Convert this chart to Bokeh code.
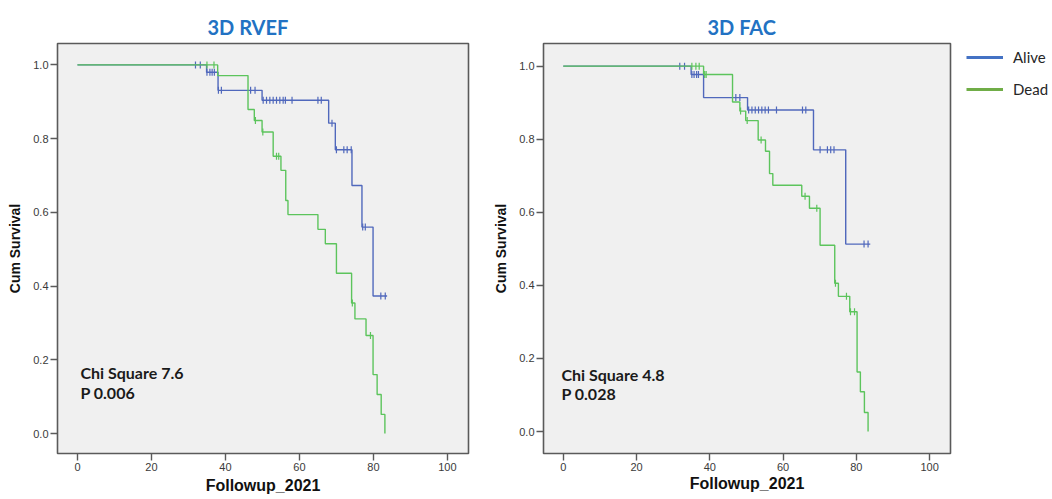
import numpy as np
from bokeh.plotting import figure
from bokeh.layouts import row
from bokeh.models import FixedTicker, PrintfTickFormatter, Legend, LegendItem
from bokeh.core.properties import value
from bokeh.embed import file_html
from bokeh.resources import INLINE

# ---------------- data ----------------
# 3D RVEF
rvef_alive_time = [0, 34.9, 38.0, 49.9, 67.9, 69.7, 74.2, 76.9, 79.9, 83.7]
rvef_alive_surv = [1.0, 0.980, 0.931, 0.904, 0.842, 0.770, 0.673, 0.560, 0.373, 0.373]
rvef_alive_cens = [31.9, 33.2, 35.0, 35.8, 36.4, 37.0, 38.1, 38.9, 46.8, 48.0,
                   50.2, 51.1, 52.0, 52.9, 53.8, 54.7, 55.6, 56.2, 58.0, 65.0, 65.9,
                   68.8, 70.0, 72.0, 72.9, 74.0, 77.1, 77.8, 82.0, 83.2]
rvef_dead_time = [0, 37.9, 46.1, 47.8, 49.9, 52.9, 55.0, 56.3, 56.9, 65.0, 67.0,
                  70.0, 74.1, 75.0, 78.0, 79.9, 81.0, 82.1, 83.1]
rvef_dead_surv = [1.0, 0.971, 0.879, 0.849, 0.818, 0.752, 0.714, 0.632, 0.594, 0.554,
                  0.515, 0.435, 0.354, 0.311, 0.266, 0.160, 0.106, 0.052, 0.0]
rvef_dead_cens = [35.0, 36.9, 48.1, 50.1, 53.8, 54.4, 74.3, 79.2]

# 3D FAC
fac_alive_time = [0, 34.9, 38.3, 50.3, 68.3, 77.1, 83.8]
fac_alive_surv = [1.0, 0.977, 0.914, 0.880, 0.771, 0.513, 0.513]
fac_alive_cens = [31.8, 33.1, 35.1, 35.7, 36.4, 36.9, 47.1, 48.2,
                  50.6, 51.5, 52.4, 53.3, 54.2, 55.1, 56.0, 58.2, 65.3, 66.2,
                  70.1, 72.1, 73.0, 73.9, 82.1, 83.2]
fac_dead_time = [0, 38.3, 46.2, 48.2, 49.8, 53.2, 55.2, 56.3, 57.2, 65.1, 67.2,
                 70.1, 74.1, 75.1, 78.2, 80.2, 81.1, 82.2, 83.2]
fac_dead_surv = [1.0, 0.977, 0.902, 0.877, 0.851, 0.798, 0.767, 0.706, 0.674, 0.644,
                 0.611, 0.510, 0.406, 0.370, 0.328, 0.163, 0.109, 0.052, 0.0]
fac_dead_cens = [35.1, 36.2, 37.1, 38.6, 39.0, 48.4, 50.2, 54.0, 66.0, 69.2,
                 74.3, 77.3, 78.4, 79.5]

groups = ["Alive", "Dead"]
x_ticks = [0, 20, 40, 60, 80, 100]
y_ticks = [0.0, 0.2, 0.4, 0.6, 0.8, 1.0]
titles = ["3D RVEF", "3D FAC"]
stats = [["Chi Square 7.6", "P 0.006"], ["Chi Square 4.8", "P 0.028"]]

BLUE = "#5068BC"
GREEN = "#5CC45C"
LEG_BLUE = "#4472C4"
LEG_GREEN = "#70AD47"
TITLE_BLUE = "#2272C3"
FRAME = "#5a5a5a"
H = 498


def surv_at(times, surv, t):
    idx = np.searchsorted(np.array(times), np.array(t), side="right") - 1
    return list(np.array(surv)[idx])


def make_plot(title, alive, dead, stat_lines, width, borders, xr, yr,
              title_offset, stat_pos, xlabel_standoff):
    bl, br, bt, bb = borders
    p = figure(width=width, height=H, x_range=xr, y_range=yr,
               output_backend="svg", toolbar_location=None,
               min_border_left=bl, min_border_right=br,
               min_border_top=bt, min_border_bottom=bb)
    p.background_fill_color = "#F0F0F0"
    p.border_fill_color = "white"
    p.outline_line_color = FRAME
    p.outline_line_width = 1.6
    p.grid.visible = False

    p.title.text = title
    p.title.text_font = "Lato"
    p.title.text_font_style = "bold"
    p.title.text_font_size = "20px"
    p.title.text_color = TITLE_BLUE
    p.title.align = "left"
    p.title.offset = title_offset
    p.title.standoff = 10

    for ax in (p.xaxis, p.yaxis):
        ax.axis_line_color = None
        ax.major_tick_in = 0
        ax.major_tick_out = 7
        ax.major_tick_line_color = FRAME
        ax.major_tick_line_width = 1.4
        ax.minor_tick_in = 0
        ax.minor_tick_out = 0
        ax.major_label_text_font = "Liberation Sans"
        ax.major_label_text_font_size = "11px"
        ax.major_label_text_color = "#3a3a3a"
        ax.major_label_standoff = 2
        ax.axis_label_text_font = "Liberation Sans"
        ax.axis_label_text_font_style = "bold"
        ax.axis_label_text_color = "#111111"
    p.xaxis.ticker = FixedTicker(ticks=x_ticks)
    p.yaxis.ticker = FixedTicker(ticks=y_ticks)
    p.yaxis.formatter = PrintfTickFormatter(format="%.1f")
    p.xaxis.axis_label = "Followup_2021"
    p.xaxis.axis_label_text_font_size = "16px"
    p.xaxis.axis_label_standoff = xlabel_standoff
    p.yaxis.axis_label = "Cum Survival"
    p.yaxis.axis_label_text_font_size = "14px"
    p.yaxis.axis_label_standoff = 7

    for (times, surv, cens), col in ((alive, BLUE), (dead, GREEN)):
        p.step(x=times, y=surv, mode="after", line_color=col, line_width=1.4)
        p.scatter(x=cens, y=surv_at(times, surv, cens), marker="dash",
                  angle=np.pi / 2, size=7, line_color=col, line_width=1.2)

    p.text(x=[stat_pos[0]] * 2, y=stat_pos[1], text=stat_lines,
           text_font=value("Lato"), text_font_style="bold",
           text_font_size="16px", text_baseline="middle", text_align="left",
           text_color="#1a1a1a")
    return p


p1 = make_plot(titles[0],
               (rvef_alive_time, rvef_alive_surv, rvef_alive_cens),
               (rvef_dead_time, rvef_dead_surv, rvef_dead_cens),
               stats[0], 490, (57, 22, 43, 45),
               (-5.4, 105.7), (-0.054, 1.058), 150, (0.8, [0.165, 0.111]), 3)

p2 = make_plot(titles[1],
               (fac_alive_time, fac_alive_surv, fac_alive_cens),
               (fac_dead_time, fac_dead_surv, fac_dead_cens),
               stats[1], 470, (49, 10, 43, 42),
               (-5.4, 105.7), (-0.060, 1.062), 164, (-0.5, [0.157, 0.103]), 1)

# legend panel
p3 = figure(width=90, height=H, x_range=(0, 1), y_range=(0, 1), title=None,
            output_backend="svg", toolbar_location=None,
            x_axis_type=None, y_axis_type=None,
            min_border_left=0, min_border_right=0,
            min_border_top=0, min_border_bottom=0)
p3.outline_line_color = None
p3.grid.visible = False
p3.background_fill_color = "white"
p3.border_fill_color = "white"
r_a = p3.line(x=[0], y=[0], line_color=LEG_BLUE, line_width=3)
r_d = p3.line(x=[0], y=[0], line_color=LEG_GREEN, line_width=3)
legend = Legend(items=[LegendItem(label=groups[0], renderers=[r_a]),
                       LegendItem(label=groups[1], renderers=[r_d])],
                location=(6, 354))
legend.border_line_color = None
legend.background_fill_alpha = 0
legend.padding = 0
legend.margin = 0
legend.glyph_width = 37
legend.glyph_height = 20
legend.label_height = 20
legend.spacing = 12
legend.label_standoff = 10
legend.label_text_font = "Lato"
legend.label_text_font_size = "15px"
legend.label_text_color = "#262626"
p3.add_layout(legend)

layout = row(p1, p2, p3)
open("out.html", "w").write(file_html(layout, INLINE))
